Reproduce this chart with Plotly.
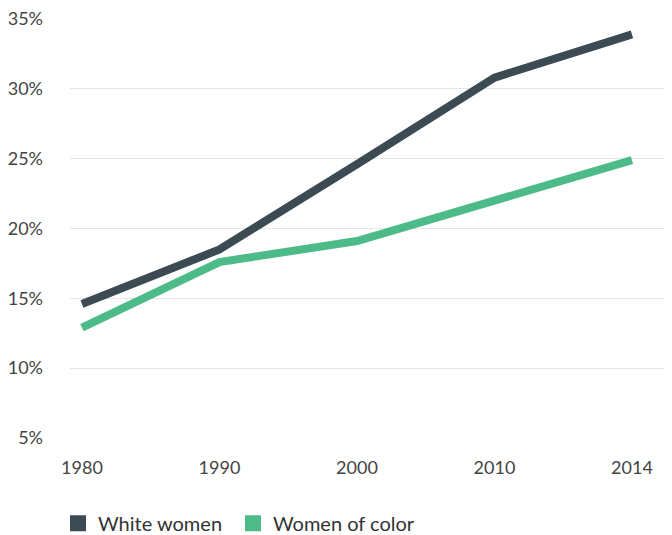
import plotly.graph_objects as go

years = ["1980", "1990", "2000", "2010", "2014"]
white_women = [14.6, 18.5, 24.6, 30.8, 33.9]
women_of_color = [12.9, 17.6, 19.1, 22.0, 24.9]
y_ticks = [5, 10, 15, 20, 25, 30, 35]
y_tick_labels = [f"{v}%" for v in y_ticks]

DARK = "#3b4a53"
GREEN = "#4dbb87"
FONT = "Lato"

fig = go.Figure()

# the two lines (legend handled by square marker dummies below)
for name, vals, col in [("White women", white_women, DARK),
                        ("Women of color", women_of_color, GREEN)]:
    fig.add_trace(go.Scatter(x=years, y=vals, mode="lines", name=name,
                             line=dict(color=col, width=8),
                             showlegend=False, hoverinfo="skip"))

for name, col in [("White women", DARK), ("Women of color", GREEN)]:
    fig.add_trace(go.Scatter(x=[None], y=[None], mode="markers", name=name,
                             marker=dict(symbol="square", size=21, color=col)))
# blank spacer entry so the last legend label is not clipped by entrywidth
fig.add_trace(go.Scatter(x=[None], y=[None], mode="markers", name=" ",
                         marker=dict(size=1, color="rgba(0,0,0,0)")))

# page body adds 8px margin, so everything is shifted by -8 here
fig.update_layout(
    width=672, height=535,
    margin=dict(l=62, r=16, t=11, b=105, autoexpand=False),
    paper_bgcolor="white", plot_bgcolor="white",
    font=dict(family=FONT, size=18, color="#444444"),
    legend=dict(orientation="h", xref="container", yref="container",
                x=0.0744, xanchor="left", y=0.037, yanchor="middle",
                font=dict(size=20, color="#333333"), itemclick=False,
                entrywidth=130, traceorder="normal"),
)
fig.update_xaxes(type="category", range=[-0.087, 4.233], showgrid=False,
                 showline=False, zeroline=False, ticks="",
                 ticklabelstandoff=17, automargin=False)
fig.update_yaxes(range=[5, 35], tickvals=y_ticks, ticktext=y_tick_labels,
                 showgrid=True, gridcolor="#e6e6e6", gridwidth=1,
                 zeroline=False, showline=False, ticks="",
                 ticklabelstandoff=26, automargin=False,
                 ticklabeloverflow="allow")

fig.write_html("out.html")
